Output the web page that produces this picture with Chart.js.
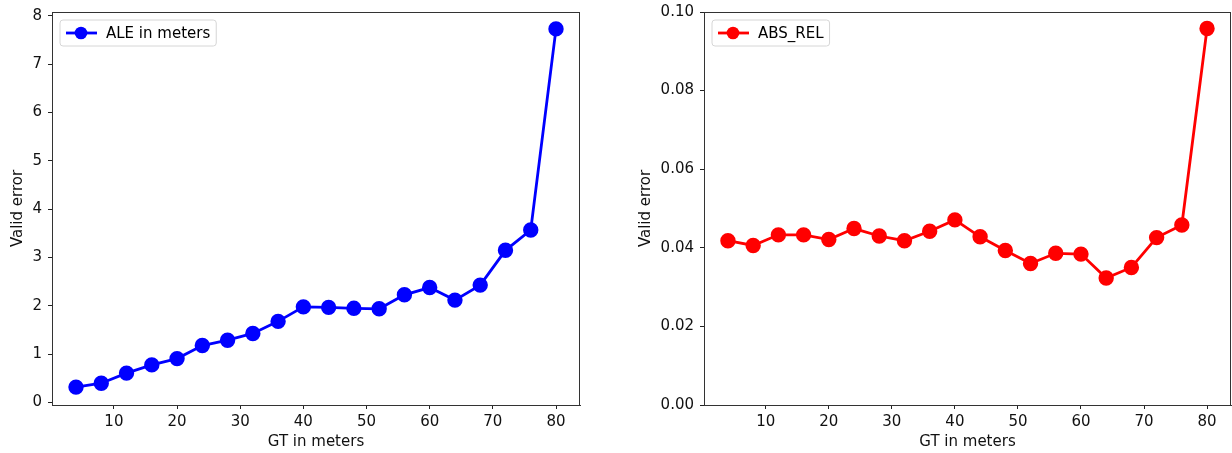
<!DOCTYPE html>
<html>
<head>
<meta charset="utf-8">
<script src="https://cdn.jsdelivr.net/npm/chart.js@4/dist/chart.umd.min.js"></script>
<style>
  html, body { margin: 0; padding: 0; background: #ffffff; }
  body { width: 1232px; height: 453px; position: relative; overflow: hidden; }
  canvas { position: absolute; top: 0; }
  #c1 { left: 0px; }
  #c2 { left: 600px; }
</style>
</head>
<body>
<canvas id="c1" width="590" height="453"></canvas>
<canvas id="c2" width="632" height="453"></canvas>
<script>
// ---- data ----
const gtMeters = [4, 8, 12, 16, 20, 24, 28, 32, 36, 40, 44, 48, 52, 56, 60, 64, 68, 72, 76, 80];
const aleValues = [0.32, 0.40, 0.61, 0.78, 0.91, 1.18, 1.29, 1.43, 1.68, 1.98, 1.97, 1.95, 1.94, 2.23, 2.38, 2.12, 2.43, 3.15, 3.57, 7.73];
const absRelValues = [0.0418, 0.0406, 0.0433, 0.0433, 0.0421, 0.0449, 0.0430, 0.0418, 0.0442, 0.0471, 0.0428, 0.0393, 0.0360, 0.0386, 0.0384, 0.0323, 0.0350, 0.0426, 0.0458, 0.0958];
const xTickValues = [10, 20, 30, 40, 50, 60, 70, 80];
const aleTickValues = [0, 1, 2, 3, 4, 5, 6, 7, 8];
const absRelTickValues = [0.00, 0.02, 0.04, 0.06, 0.08, 0.10];
const xTitle = 'GT in meters';
const yTitle = 'Valid error';
const aleLabel = 'ALE in meters';
const absRelLabel = 'ABS_REL';

const FONT = "'DejaVu Sans', sans-serif";
const FS = 15;

const framePlugin = {
  id: 'frame',
  afterDatasetsDraw(chart) {
    const a = chart.chartArea, ctx = chart.ctx;
    ctx.save();
    ctx.strokeStyle = '#333333';
    ctx.lineWidth = 1;
    ctx.strokeRect(Math.round(a.left) + 0.5, Math.round(a.top) + 0.5, Math.round(a.right - a.left) - 1, Math.round(a.bottom - a.top));
    ctx.restore();
  }
};

const legendPlugin = {
  id: 'mplLegend',
  afterDraw(chart) {
    const ds = chart.data.datasets[0];
    const a = chart.chartArea, ctx = chart.ctx;
    ctx.save();
    ctx.font = FS + 'px ' + FONT;
    const tw = ctx.measureText(ds.label).width;
    const x0 = a.left + 8, y0 = a.top + 8;
    const w = 46 + tw + 6, h = 26;
    const r = 3;
    ctx.beginPath();
    ctx.moveTo(x0 + r, y0);
    ctx.lineTo(x0 + w - r, y0); ctx.quadraticCurveTo(x0 + w, y0, x0 + w, y0 + r);
    ctx.lineTo(x0 + w, y0 + h - r); ctx.quadraticCurveTo(x0 + w, y0 + h, x0 + w - r, y0 + h);
    ctx.lineTo(x0 + r, y0 + h); ctx.quadraticCurveTo(x0, y0 + h, x0, y0 + h - r);
    ctx.lineTo(x0, y0 + r); ctx.quadraticCurveTo(x0, y0, x0 + r, y0);
    ctx.closePath();
    ctx.fillStyle = 'rgba(255,255,255,0.8)';
    ctx.fill();
    ctx.strokeStyle = '#d6d6d6';
    ctx.lineWidth = 1;
    ctx.stroke();
    const cy = y0 + h / 2;
    ctx.strokeStyle = ds.borderColor;
    ctx.lineWidth = ds.borderWidth;
    ctx.beginPath();
    ctx.moveTo(x0 + 6, cy); ctx.lineTo(x0 + 37, cy);
    ctx.stroke();
    ctx.fillStyle = ds.pointBackgroundColor;
    ctx.beginPath();
    ctx.arc(x0 + 21, cy, ds.pointRadius, 0, Math.PI * 2);
    ctx.fill();
    ctx.fillStyle = '#000000';
    ctx.textBaseline = 'middle';
    ctx.textAlign = 'left';
    ctx.fillText(ds.label, x0 + 46, cy + 1);
    ctx.restore();
  }
};

function makeChart(id, label, values, color, yMin, yMax, yTicks, yFmt, yAxisWidth, yTitlePad, pad) {
  const pts = gtMeters.map((x, i) => ({ x: x, y: values[i] }));
  return new Chart(document.getElementById(id), {
    type: 'scatter',
    data: {
      datasets: [{
        label: label,
        data: pts,
        showLine: true,
        borderColor: color,
        backgroundColor: color,
        pointBackgroundColor: color,
        pointBorderColor: color,
        borderWidth: 2.8,
        pointRadius: 6.3,
        pointHoverRadius: 6.3,
        tension: 0,
        clip: false
      }]
    },
    options: {
      responsive: false,
      animation: false,
      devicePixelRatio: 1,
      layout: { padding: pad, autoPadding: false },
      plugins: { legend: { display: false }, tooltip: { enabled: false } },
      scales: {
        x: {
          type: 'linear',
          min: 0.2,
          max: 83.8,
          afterBuildTicks(scale) { scale.ticks = xTickValues.map(v => ({ value: v })); },
          afterFit(scale) { scale.height = 48; scale.paddingLeft = 0; scale.paddingRight = 0; },
          grid: { display: true, drawOnChartArea: false, drawTicks: true, tickLength: 4, color: '#222222' },
          border: { display: true, color: '#333333' },
          ticks: { color: '#111111', font: { family: FONT, size: FS }, padding: 4, maxRotation: 0, autoSkip: false,
                   callback: v => String(v) },
          title: { display: true, text: xTitle, color: '#111111', font: { family: FONT, size: FS }, padding: { top: 0, bottom: 2 } }
        },
        y: {
          type: 'linear',
          min: yMin,
          max: yMax,
          afterBuildTicks(scale) { scale.ticks = yTicks.map(v => ({ value: v })); },
          afterFit(scale) { scale.width = yAxisWidth; scale.paddingTop = 0; scale.paddingBottom = 0; },
          grid: { display: true, drawOnChartArea: false, drawTicks: true, tickLength: 4, color: '#222222' },
          border: { display: true, color: '#333333' },
          ticks: { color: '#111111', font: { family: FONT, size: FS }, padding: 6, autoSkip: false, callback: yFmt },
          title: { display: true, text: yTitle, color: '#111111', font: { family: FONT, size: FS }, padding: { top: yTitlePad, bottom: 0 } }
        }
      }
    },
    plugins: [framePlugin, legendPlugin]
  });
}

makeChart('c1', aleLabel, aleValues, '#0000ff', -0.05, 8.08, aleTickValues, v => String(v), 52, 9,
          { top: 12, right: 10, bottom: 0, left: 0 });
makeChart('c2', absRelLabel, absRelValues, '#ff0000', 0, 0.1, absRelTickValues, v => Number(v).toFixed(2), 104, 37,
          { top: 12, right: 1, bottom: 0, left: 0 });
</script>
</body>
</html>
